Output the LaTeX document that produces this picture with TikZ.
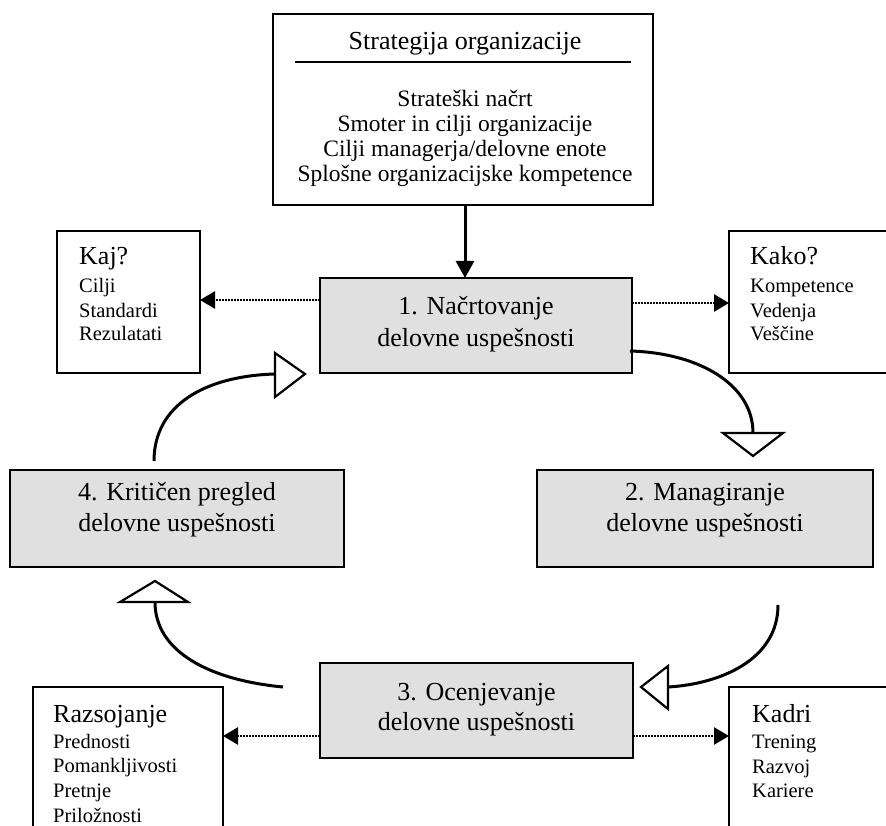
\documentclass[tikz,border=0pt]{standalone}
\usepackage{fontspec}
\setmainfont{Liberation Serif}
\usetikzlibrary{arrows.meta,calc}

\definecolor{stagefill}{RGB}{224,224,224}

\begin{document}
\begin{tikzpicture}[x=1pt,y=-1pt,
  box/.style={draw, line width=2pt, rectangle, inner sep=0pt, outer sep=0pt},
  stagebox/.style={box, fill=stagefill},
  big/.style={font=\fontsize{26}{30}\selectfont, inner sep=0pt},
  mid/.style={font=\fontsize{23.5}{28}\selectfont, inner sep=0pt},
  small/.style={font=\fontsize{20.5}{24}\selectfont, inner sep=0pt},
  mainarrow/.style={line width=3pt, -{Triangle[length=17pt,width=18pt]}},
  dotarrow/.style={line width=2.6pt, dash pattern=on 2pt off 1pt,
    -{Triangle[length=15pt,width=17pt]}},
  cycle curve/.style={line width=3pt},
  hollowtip/.style={draw, line width=2.2pt, fill=white, line join=miter}
]
\useasboundingbox (0,0) rectangle (886,826);
\clip (0,0) rectangle (886,826);

% ---------- strategy box ----------
\node[box, minimum width=380pt, minimum height=191pt] (strat) at (463,109.5) {};
\draw[line width=2pt] (295,62) -- (631,62);
\node[big, anchor=base] (stitle) at (465,50) {Strategija organizacije};
\node[mid, anchor=base] (s1) at (465,107) {Strateški načrt};
\node[mid, anchor=base] (s2) at (465,132) {Smoter in cilji organizacije};
\node[mid, anchor=base] (s3) at (465,157) {Cilji managerja/delovne enote};
\node[mid, anchor=base] (s4) at (465,182) {Splošne organizacijske kompetence};

% ---------- the four stages ----------
\node[stagebox, minimum width=312pt, minimum height=95pt] (b1) at (476,325.5) {};
\node[big, anchor=base] (b1a) at (476,315) {1. Načrtovanje};
\node[big, anchor=base] (b1b) at (476,346) {delovne uspešnosti};

\node[stagebox, minimum width=336pt, minimum height=97pt] (b2) at (705,518.5) {};
\node[big, anchor=base] (b2a) at (705,500) {2. Managiranje};
\node[big, anchor=base] (b2b) at (705,531) {delovne uspešnosti};

\node[stagebox, minimum width=313pt, minimum height=95pt] (b3) at (476.5,710.5) {};
\node[big, anchor=base] (b3a) at (476.5,700) {3. Ocenjevanje};
\node[big, anchor=base] (b3b) at (476.5,730) {delovne uspešnosti};

\node[stagebox, minimum width=334pt, minimum height=97pt] (b4) at (177,518.5) {};
\node[big, anchor=base] (b4a) at (177,500) {4. Kritičen pregled};
\node[big, anchor=base] (b4b) at (177,531) {delovne uspešnosti};

% ---------- side boxes ----------
\node[box, minimum width=143pt, minimum height=142pt] (kaj) at (128.5,302) {};
\node[big, anchor=base west] (kajh) at (79,265) {Kaj?};
\node[small, anchor=base west] (kaj1) at (79,293) {Cilji};
\node[small, anchor=base west] (kaj2) at (79,317) {Standardi};
\node[small, anchor=base west] (kaj3) at (79,340) {Rezulatati};

\node[box, minimum width=200pt, minimum height=142pt] (kako) at (829,302) {};
\node[big, anchor=base west] (kakoh) at (750,265) {Kako?};
\node[small, anchor=base west] (kako1) at (750,293) {Kompetence};
\node[small, anchor=base west] (kako2) at (750,317) {Vedenja};
\node[small, anchor=base west] (kako3) at (750,340) {Veščine};

\node[box, minimum width=190pt, minimum height=200pt] (raz) at (128,787) {};
\node[big, anchor=base west] (razh) at (53,722) {Razsojanje};
\node[small, anchor=base west] (raz1) at (53,748) {Prednosti};
\node[small, anchor=base west] (raz2) at (53,772) {Pomankljivosti};
\node[small, anchor=base west] (raz3) at (53,797) {Pretnje};
\node[small, anchor=base west] (raz4) at (53,822) {Priložnosti};

\node[box, minimum width=200pt, minimum height=200pt] (kadri) at (829,787) {};
\node[big, anchor=base west] (kadrih) at (752,722) {Kadri};
\node[small, anchor=base west] (kadri1) at (752,748) {Trening};
\node[small, anchor=base west] (kadri2) at (752,773) {Razvoj};
\node[small, anchor=base west] (kadri3) at (752,797) {Kariere};

% ---------- strategy feeds planning ----------
\coordinate (ax) at (465,0);
\draw[mainarrow] (strat.south -| ax) -- (b1.north -| ax);

% ---------- dotted side links ----------
\coordinate (yup) at (0,300);
\coordinate (yup2) at (0,303);
\coordinate (ylow) at (0,736);
\draw[dotarrow] (b1.west |- yup) -- (kaj.east |- yup);
\draw[dotarrow] (b1.east |- yup2) -- (kako.west |- yup2);
\draw[dotarrow] (b3.west |- ylow) -- (raz.east |- ylow);
\draw[dotarrow] (b3.east |- ylow) -- (kadri.west |- ylow);

% ---------- cycle arrows with hollow heads ----------
\coordinate (h1) at (753,433);
\coordinate (h2) at (668,687);
\coordinate (h3) at (155,602);
\coordinate (h4) at (275,374);
\coordinate (c2s) at (778,605);
\coordinate (c3s) at (283,687);
\coordinate (c4s) at (154,461);

\draw[cycle curve] ($(b1.east)+(-2,25.5)$) .. controls (700,353) and (753,385) .. (h1);
\draw[hollowtip] ($(h1)+(-30,0)$) -- ($(h1)+(30,0)$) -- ($(h1)+(0,23)$) -- cycle;

\draw[cycle curve] (c2s) .. controls (778,660) and (720,684) .. (h2);
\draw[hollowtip] ($(h2)+(0,-21)$) -- ($(h2)+(0,22)$) -- ($(h2)+(-27,0)$) -- cycle;

\draw[cycle curve] (c3s) .. controls (210,680) and (155,652) .. (h3);
\draw[hollowtip] ($(h3)+(-35,0)$) -- ($(h3)+(33,0)$) -- ($(h3)+(0,-21)$) -- cycle;

\draw[cycle curve] (c4s) .. controls (154,405) and (205,376) .. (h4);
\draw[hollowtip] ($(h4)+(0,-21)$) -- ($(h4)+(0,23)$) -- ($(h4)+(30,0)$) -- cycle;
\end{tikzpicture}
\end{document}
